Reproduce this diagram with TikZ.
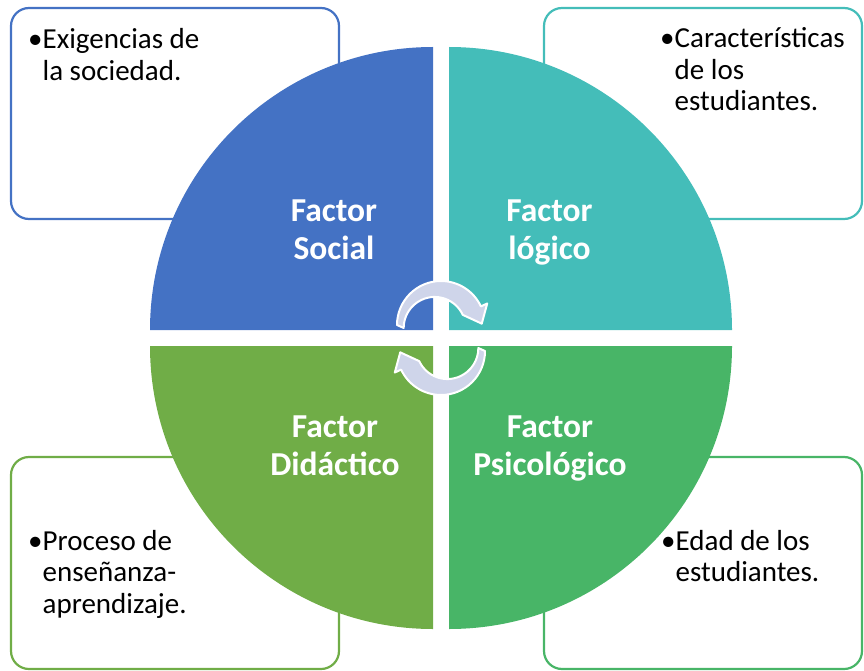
\documentclass[tikz,border=0pt]{standalone}
\usepackage{fontspec}
\setmainfont{Carlito}
\usetikzlibrary{calc}
\definecolor{cblue}{HTML}{4472C4}
\definecolor{cteal}{HTML}{44BDB9}
\definecolor{cgreenL}{HTML}{70AD47}
\definecolor{cgreenR}{HTML}{48B567}
\definecolor{carrow}{HTML}{CFD5EA}
\tikzset{
  infobox/.style={draw, line width=2.2pt, rounded corners=18pt, fill=white, inner sep=0pt},
  title/.style={text=white, font=\fontsize{33.5}{38}\selectfont\bfseries, anchor=base, inner sep=0pt},
  bullettext/.style={font=\fontsize{29}{31.5}\selectfont, anchor=base west, inner sep=0pt},
  cyc/.style={fill=carrow, draw=white, line width=2pt, line join=round},
}
\begin{document}
\begin{tikzpicture}[x=1pt,y=-1pt]
\useasboundingbox (0,0) rectangle (864,671);
% outer boxes
\node[infobox, draw=cblue, minimum width=328pt, minimum height=211pt] (boxTL) at (175,113.5) {};
\node[infobox, draw=cteal, minimum width=318pt, minimum height=211pt] (boxTR) at (703,113.5) {};
\node[infobox, draw=cgreenL, minimum width=328pt, minimum height=212pt] (boxBL) at (175,563) {};
\node[infobox, draw=cgreenR, minimum width=318pt, minimum height=212pt] (boxBR) at (703,563) {};
% quadrants
\fill[cblue] (433,330) -- (150,330) arc[start angle=180, end angle=270, radius=283] -- cycle;
\fill[cteal] (449,330) -- (449,47) arc[start angle=270, end angle=360, radius=283] -- cycle;
\fill[cgreenL] (433,346) -- (150,346) arc[start angle=180, end angle=90, radius=283] -- cycle;
\fill[cgreenR] (449,346) -- (732,346) arc[start angle=0, end angle=90, radius=283] -- cycle;
% titles
\node[title] (tSocial) at (334,222) {\begin{tabular}[t]{@{}c@{}}Factor\\Social\end{tabular}};
\node[title] (tLogico) at (549.5,222) {\begin{tabular}[t]{@{}c@{}}Factor\\lógico\end{tabular}};
\node[title] (tDidac) at (335,437) {\begin{tabular}[t]{@{}c@{}}Factor\\Didáctico\end{tabular}};
\node[title] (tPsico) at (550,437) {\begin{tabular}[t]{@{}c@{}}Factor\\Psicológico\end{tabular}};
% bullet texts
\node[bullettext] (xTL) at (28,49) {\begin{tabular}[t]{@{}l@{}l@{}}•&Exigencias de\\&la sociedad.\end{tabular}};
\node[bullettext] (xTR) at (660,48) {\begin{tabular}[t]{@{}l@{}l@{}}•&Características\\&de los\\&estudiantes.\end{tabular}};
\node[bullettext] (xBL) at (28,550) {\begin{tabular}[t]{@{}l@{}l@{}}•&Proceso de\\&enseñanza-\\&aprendizaje.\end{tabular}};
\node[bullettext] (xBR) at (661,550) {\begin{tabular}[t]{@{}l@{}l@{}}•&Edad de los\\&estudiantes.\end{tabular}};
% cycle arrows
\coordinate (c1) at (441,325);
\coordinate (c2) at (441,351);
\draw[cyc] ($(c1)+(180:44)$) arc[start angle=180, end angle=335, radius=44]
  -- ($(c1)+(335:51)$) -- ($(c1)+(335:37.5)+(65:16)$) -- ($(c1)+(335:24)$)
  arc[start angle=335, end angle=180, radius=31] -- cycle;
\draw[cyc] ($(c2)+(0:44)$) arc[start angle=0, end angle=155, radius=44]
  -- ($(c2)+(155:51)$) -- ($(c2)+(155:37.5)+(245:16)$) -- ($(c2)+(155:24)$)
  arc[start angle=155, end angle=0, radius=31] -- cycle;
\end{tikzpicture}
\end{document}
